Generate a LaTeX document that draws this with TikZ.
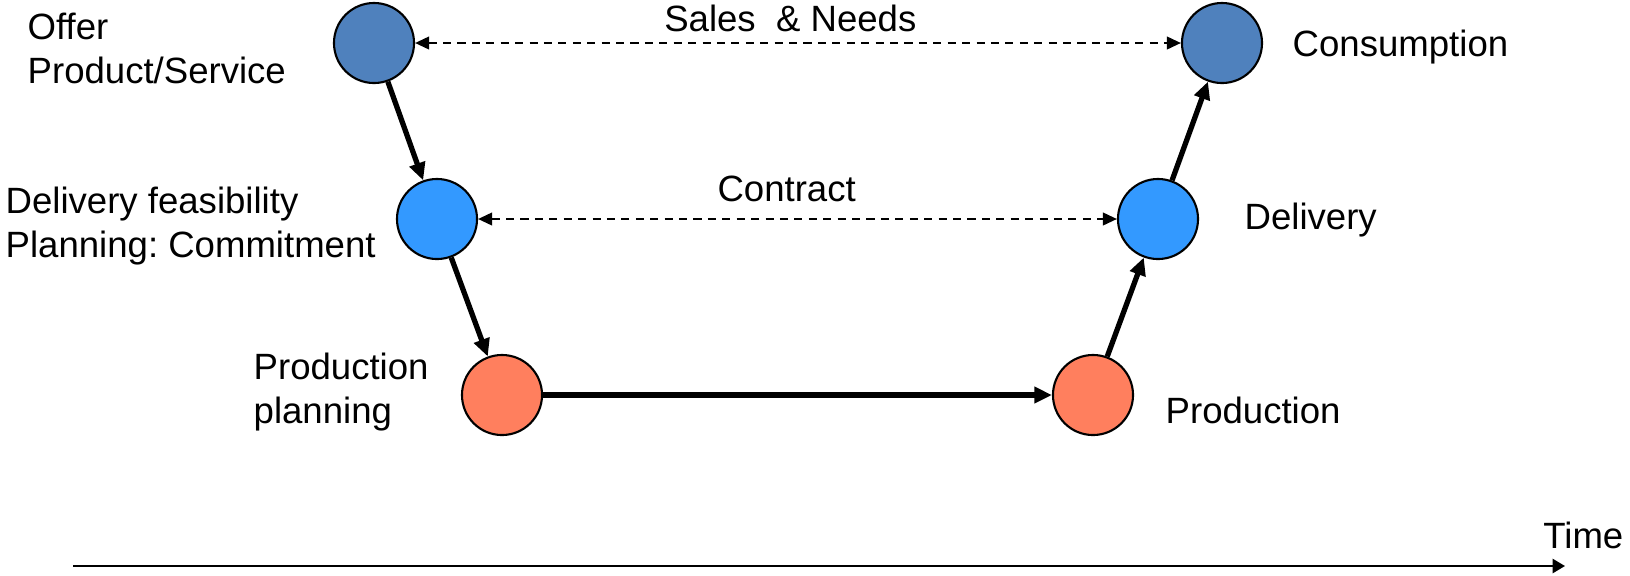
\documentclass[tikz,border=0pt]{standalone}
\usepackage{fontspec}
\setmainfont{Liberation Sans}
\frenchspacing
\usepackage{xcolor}
\definecolor{offerBlue}{RGB}{79,129,189}
\definecolor{plannBlue}{RGB}{51,153,255}
\definecolor{prodSalmon}{RGB}{255,127,94}
\usepackage{tikz}
\usetikzlibrary{arrows.meta}

\begin{document}
\begin{tikzpicture}[x=0.01cm, y=-0.01cm,
    every node/.style={inner sep=0pt, font=\fontsize{10.4}{12.5}\selectfont},
    stage/.style={circle, draw=black, line width=0.6pt, minimum size=0.8cm},
    flow/.style={line width=1.5pt, -{Triangle[length=5pt, width=4.5pt]}},
    link/.style={line width=0.6pt, dash pattern=on 2.3pt off 1.8pt,
      {Triangle[length=4pt, width=3.6pt]}-{Triangle[length=4pt, width=3.6pt]}}]
  \useasboundingbox (0,0) rectangle (1630,575);

  % circles
  \node[stage, fill=offerBlue] (offer) at (374,43) {};
  \node[stage, fill=offerBlue] (cons) at (1222,43) {};
  \node[stage, fill=plannBlue] (feas) at (437,219) {};
  \node[stage, fill=plannBlue] (deliv) at (1158,219) {};
  \node[stage, fill=prodSalmon] (pplan) at (502,395) {};
  \node[stage, fill=prodSalmon] (prod) at (1093,395) {};

  % texts
  \node[anchor=west, align=left] (offerTxt) at (27,48) {Offer\\Product/Service};
  \node[anchor=west, align=left] (feasTxt) at (5,226) {Delivery feasibility\\Planning: Commitment};
  \node[anchor=west, align=left] (pplanTxt) at (253,392) {Production\\planning};
  \node[anchor=west] (consTxt) at (1292,47) {Consumption};
  \node[anchor=west] (delivTxt) at (1244,220) {Delivery};
  \node[anchor=west] (prodTxt) at (1165,410) {Production};

  \draw[flow] (offer) -- (feas);
  \draw[flow] (feas) -- (pplan);
  \draw[flow] (pplan) -- (prod);
  \draw[flow] (prod) -- (deliv);
  \draw[flow] (deliv) -- (cons);

  \draw[link] (offer) -- node[pos=0.49, above=3pt] {Sales~\ \& Needs} (cons);
  \draw[link] (feas) -- node[pos=0.483, above=4.5pt] {Contract} (deliv);

  % time axis
  \coordinate (t0) at (73,566);
  \coordinate (t1) at (1565,566);
  \draw[line width=0.6pt, -{Triangle[length=3.5pt, width=4pt]}] (t0) -- (t1);
  \node[anchor=east] (timeTxt) at (1624,535) {Time};

\end{tikzpicture}
\end{document}
